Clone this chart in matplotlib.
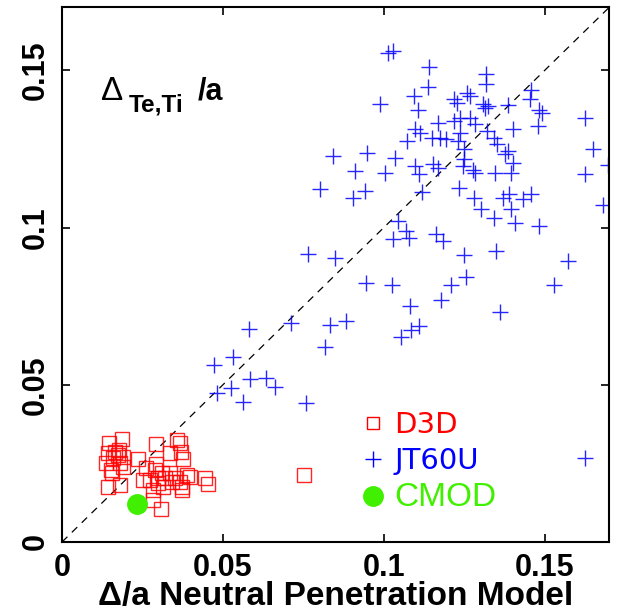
import matplotlib
matplotlib.use('Agg')
import matplotlib.pyplot as plt
from matplotlib.lines import Line2D

# D3D points (Delta/a model, Delta_Te,Ti/a measured)
d3d_x = [0.0146, 0.0187, 0.0143, 0.0137, 0.0165, 0.0177, 0.0174, 0.0190, 0.0159, 0.0180,
         0.0190, 0.0152, 0.0156, 0.0143, 0.0180, 0.0236, 0.0292, 0.0358, 0.0367, 0.0336,
         0.0370, 0.0376, 0.0292, 0.0261, 0.0252, 0.0289, 0.0311, 0.0274, 0.0299, 0.0320,
         0.0336, 0.0299, 0.0283, 0.0352, 0.0367, 0.0373, 0.0373, 0.0389, 0.0398, 0.0445,
         0.0454, 0.0283, 0.0308, 0.0342, 0.0314, 0.0753]
d3d_y = [0.0314, 0.0327, 0.0283, 0.0251, 0.0286, 0.0292, 0.0276, 0.0270, 0.0267, 0.0251,
         0.0238, 0.0229, 0.0219, 0.0175, 0.0181, 0.0263, 0.0311, 0.0324, 0.0314, 0.0283,
         0.0286, 0.0263, 0.0248, 0.0235, 0.0197, 0.0229, 0.0219, 0.0197, 0.0203, 0.0203,
         0.0219, 0.0187, 0.0165, 0.0203, 0.0190, 0.0175, 0.0165, 0.0213, 0.0206, 0.0203,
         0.0184, 0.0133, 0.0105, 0.0190, 0.0175, 0.0213]

# JT60U points
jt_x = [0.1014, 0.1030, 0.1139, 0.1319, 0.1136, 0.1319, 0.1095, 0.0989, 0.1105, 0.1260,
        0.1269, 0.1217, 0.1229, 0.1307, 0.1316, 0.1325, 0.1385, 0.1459, 0.1453, 0.1481,
        0.1493, 0.1167, 0.1217, 0.1238, 0.1269, 0.1285, 0.1098, 0.1114, 0.1151, 0.1073,
        0.1176, 0.1192, 0.1238, 0.1232, 0.1322, 0.1341, 0.1400, 0.1478, 0.1624, 0.1353,
        0.1385, 0.1378, 0.1248, 0.0949, 0.1036, 0.0843, 0.0912, 0.1005, 0.1098, 0.1108,
        0.1154, 0.1167, 0.1248, 0.1245, 0.1276, 0.1285, 0.1347, 0.1394, 0.1400, 0.1649,
        0.1696, 0.1624, 0.0803, 0.0943, 0.0905, 0.1120, 0.1235, 0.1279, 0.1301, 0.1341,
        0.1372, 0.1388, 0.1456, 0.1434, 0.1394, 0.1409, 0.1481, 0.1680, 0.1045, 0.1070,
        0.1077, 0.1030, 0.1161, 0.1185, 0.0765, 0.0849, 0.1248, 0.1350, 0.1571, 0.1254,
        0.1210, 0.1528, 0.0946, 0.1027, 0.1179, 0.1080, 0.1360, 0.1108, 0.1083, 0.1055,
        0.0884, 0.0834, 0.0818, 0.0713, 0.0582, 0.0532, 0.0473, 0.0585, 0.0635, 0.0663,
        0.0526, 0.0482, 0.0563, 0.0759, 0.1624]
jt_y = [0.1556, 0.1562, 0.1511, 0.1489, 0.1448, 0.1457, 0.1419, 0.1394, 0.1375, 0.1429,
        0.1419, 0.1410, 0.1397, 0.1394, 0.1381, 0.1387, 0.1390, 0.1438, 0.1410, 0.1375,
        0.1365, 0.1333, 0.1340, 0.1349, 0.1349, 0.1330, 0.1314, 0.1302, 0.1286, 0.1276,
        0.1286, 0.1283, 0.1302, 0.1276, 0.1308, 0.1286, 0.1314, 0.1324, 0.1349, 0.1267,
        0.1244, 0.1235, 0.1251, 0.1238, 0.1222, 0.1229, 0.1181, 0.1175, 0.1197, 0.1171,
        0.1203, 0.1190, 0.1219, 0.1197, 0.1184, 0.1175, 0.1175, 0.1175, 0.1206, 0.1251,
        0.1200, 0.1171, 0.1124, 0.1117, 0.1095, 0.1114, 0.1127, 0.1095, 0.1060, 0.1032,
        0.1095, 0.1108, 0.1108, 0.1092, 0.1060, 0.1016, 0.1006, 0.1073, 0.1022, 0.0990,
        0.0968, 0.0965, 0.0978, 0.0956, 0.0917, 0.0902, 0.0914, 0.0927, 0.0895, 0.0844,
        0.0816, 0.0816, 0.0825, 0.0816, 0.0771, 0.0752, 0.0733, 0.0686, 0.0673, 0.0651,
        0.0702, 0.0689, 0.0619, 0.0695, 0.0676, 0.0587, 0.0562, 0.0517, 0.0521, 0.0492,
        0.0489, 0.0473, 0.0444, 0.0441, 0.0267]

# CMOD point
cmod_x = [0.0232]
cmod_y = [0.0121]

ticks = [0, 0.05, 0.1, 0.15]
tick_labels = ['0', '0.05', '0.1', '0.15']
lims = [0, 0.17]

plt.rcParams['font.family'] = ['Liberation Sans', 'DejaVu Sans']
green = '#40f000'

fig = plt.figure(figsize=(6.19, 6.14), dpi=100)
ax = fig.add_axes([0.1002, 0.1173, 0.8837, 0.8705])

ax.plot(lims, lims, '--', color='k', linewidth=0.9, dashes=(6, 5))
ax.plot(d3d_x, d3d_y, 's', markersize=9.5, markerfacecolor='none',
        markeredgecolor='red', markeredgewidth=1.0, alpha=0.85)
ax.plot(jt_x, jt_y, '+', markersize=11, color='blue', markeredgewidth=1.0, alpha=0.85)
ax.plot(cmod_x, cmod_y, 'o', markersize=14, color=green)

ax.set_xlim(lims)
ax.set_ylim(lims)
ax.set_xticks(ticks)
ax.set_xticklabels(tick_labels, fontsize=22, fontweight='bold')
ax.set_yticks(ticks)
ax.set_yticklabels(tick_labels, fontsize=22, fontweight='bold', rotation=90, va='center')
ax.tick_params(direction='in', length=6, width=1.2, top=True, right=True)
ax.tick_params(axis='x', pad=8)
ax.tick_params(axis='y', pad=8)
for s in ax.spines.values():
    s.set_linewidth(1.5)

ax.set_xlabel('\u0394/a Neutral Penetration Model', fontsize=24, fontweight='bold', labelpad=-1.5)

# label in upper left
ax.text(0.071, 0.827, '\u0394', fontsize=24, transform=ax.transAxes, va='baseline')
ax.text(0.122, 0.806, 'Te,Ti', fontsize=17.5, fontweight='bold', transform=ax.transAxes, va='baseline')
ax.text(0.248, 0.827, '/a', fontsize=22, fontweight='bold', transform=ax.transAxes, va='baseline')

handles = [Line2D([], [], marker='s', linestyle='none', markersize=8, markerfacecolor='none',
                  markeredgecolor='red', markeredgewidth=1.0),
           Line2D([], [], marker='+', linestyle='none', markersize=11, color='blue', markeredgewidth=1.0),
           Line2D([], [], marker='o', linestyle='none', markersize=14, color=green)]
leg = ax.legend(handles, ['D3D', 'JT60U', 'CMOD'], loc='upper left', bbox_to_anchor=(0.52, 0.266),
                frameon=False, fontsize=21, handlelength=1.0, handletextpad=0.25,
                labelspacing=0.25, borderaxespad=0)
for t, c in zip(leg.get_texts(), ['red', 'blue', green]):
    t.set_color(c)
for t in leg.get_texts()[:2]:
    t.set_family(['Liberation Sans Narrow', 'DejaVu Sans'])
leg.get_texts()[2].set_fontsize(24)

fig.savefig('out.png', dpi=100)
